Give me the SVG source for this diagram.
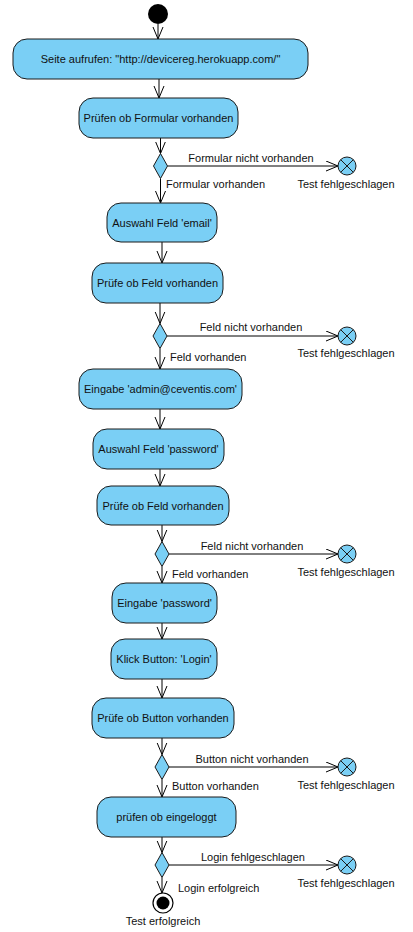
<svg xmlns="http://www.w3.org/2000/svg" width="413" height="932" viewBox="0 0 413 932">
<defs>
<marker id="arr" markerUnits="userSpaceOnUse" markerWidth="14" markerHeight="12" refX="12" refY="5.5" orient="auto" viewBox="0 0 14 12">
<path d="M0,0.5 L12,5.5 L0,10.5" fill="none" stroke="#000" stroke-width="1"/>
</marker>
<style>
.act{fill:#7acff5;stroke:#1a1a1a;stroke-width:1}
.dec{fill:#7acff5;stroke:#1a1a1a;stroke-width:1}
.t{font-family:"Liberation Sans",Arial,sans-serif;font-size:11px;fill:#111}
.c{text-anchor:middle}
.e{fill:none;stroke:#000;stroke-width:1;marker-end:url(#arr)}
.x{fill:#7acff5;stroke:#1a1a1a;stroke-width:1}
.xl{stroke:#1a1a1a;stroke-width:1}
</style>
</defs>
<rect width="413" height="932" fill="#fff"/>
<g id="connectors">
<line class="e" x1="158" y1="24" x2="158" y2="39"/>
<line class="e" x1="159" y1="79" x2="159" y2="98"/>
<line class="e" x1="160.5" y1="138" x2="160.5" y2="153.5"/>
<line class="e" x1="167.5" y1="166" x2="338" y2="166"/>
<line class="e" x1="160.5" y1="178.5" x2="160.5" y2="203"/>
<line class="e" x1="162" y1="242" x2="162" y2="263"/>
<line class="e" x1="160" y1="303" x2="160" y2="323.5"/>
<line class="e" x1="167" y1="336" x2="338" y2="336"/>
<line class="e" x1="160" y1="348.5" x2="160" y2="369"/>
<line class="e" x1="160" y1="409" x2="160" y2="429"/>
<line class="e" x1="160" y1="469" x2="160" y2="486"/>
<line class="e" x1="162" y1="525" x2="162" y2="541.5"/>
<line class="e" x1="169" y1="554" x2="338" y2="554"/>
<line class="e" x1="162" y1="566.5" x2="162" y2="583"/>
<line class="e" x1="162" y1="623" x2="162" y2="639"/>
<line class="e" x1="162" y1="679" x2="162" y2="698"/>
<line class="e" x1="162" y1="738" x2="162" y2="754.5"/>
<line class="e" x1="169" y1="767" x2="338" y2="767"/>
<line class="e" x1="162" y1="779.5" x2="162" y2="797"/>
<line class="e" x1="162" y1="837" x2="162" y2="852.5"/>
<line class="e" x1="169" y1="865" x2="338" y2="865"/>
<line class="e" x1="162" y1="877.5" x2="162" y2="893"/>
<text class="t c" x="251" y="162">Formular nicht vorhanden</text>
<text class="t" x="166" y="188">Formular vorhanden</text>
<text class="t c" x="251" y="331">Feld nicht vorhanden</text>
<text class="t" x="170" y="361">Feld vorhanden</text>
<text class="t c" x="252" y="550">Feld nicht vorhanden</text>
<text class="t" x="172" y="578">Feld vorhanden</text>
<text class="t c" x="252" y="763">Button nicht vorhanden</text>
<text class="t" x="172" y="790">Button vorhanden</text>
<text class="t c" x="253" y="861">Login fehlgeschlagen</text>
<text class="t" x="178" y="892">Login erfolgreich</text>
</g>
<g id="start"><circle cx="158" cy="14" r="10" fill="#000"/></g>
<g id="a1"><rect class="act" x="13" y="39" width="295" height="40" rx="14"/><text class="t c" x="160.5" y="63">Seite aufrufen: "http://devicereg.herokuapp.com/"</text></g>
<g id="a2"><rect class="act" x="79" y="98" width="159" height="40" rx="14"/><text class="t c" x="158.5" y="122">Prüfen ob Formular vorhanden</text></g>
<g id="d1"><polygon class="dec" points="160.5,153.5 167.5,166 160.5,178.5 153.5,166"/></g>
<g id="f1"><circle class="x" cx="347" cy="166" r="9"/><path class="xl" d="M340.6,159.6 L353.4,172.4 M353.4,159.6 L340.6,172.4"/><text class="t c" x="346" y="188">Test fehlgeschlagen</text></g>
<g id="a3"><rect class="act" x="107" y="203" width="110" height="39" rx="14"/><text class="t c" x="162" y="226.5">Auswahl Feld 'email'</text></g>
<g id="a4"><rect class="act" x="92" y="263" width="131" height="40" rx="14"/><text class="t c" x="157.5" y="287">Prüfe ob Feld vorhanden</text></g>
<g id="d2"><polygon class="dec" points="160,323.5 167,336 160,348.5 153,336"/></g>
<g id="f2"><circle class="x" cx="347" cy="336" r="9"/><path class="xl" d="M340.6,329.6 L353.4,342.4 M353.4,329.6 L340.6,342.4"/><text class="t c" x="346" y="357">Test fehlgeschlagen</text></g>
<g id="a5"><rect class="act" x="79" y="369" width="163" height="40" rx="14"/><text class="t c" x="160.5" y="393">Eingabe 'admin@ceventis.com'</text></g>
<g id="a6"><rect class="act" x="93" y="429" width="131" height="40" rx="14"/><text class="t c" x="158.5" y="453">Auswahl Feld 'password'</text></g>
<g id="a7"><rect class="act" x="97" y="486" width="132" height="39" rx="14"/><text class="t c" x="163" y="509.5">Prüfe ob Feld vorhanden</text></g>
<g id="d3"><polygon class="dec" points="162,541.5 169,554 162,566.5 155,554"/></g>
<g id="f3"><circle class="x" cx="347" cy="554" r="9"/><path class="xl" d="M340.6,547.6 L353.4,560.4 M353.4,547.6 L340.6,560.4"/><text class="t c" x="346" y="576">Test fehlgeschlagen</text></g>
<g id="a8"><rect class="act" x="112" y="583" width="105" height="40" rx="14"/><text class="t c" x="164.5" y="607">Eingabe 'password'</text></g>
<g id="a9"><rect class="act" x="111" y="639" width="106" height="40" rx="14"/><text class="t c" x="164" y="663">Klick Button: 'Login'</text></g>
<g id="a10"><rect class="act" x="92" y="698" width="142" height="40" rx="14"/><text class="t c" x="163" y="722">Prüfe ob Button vorhanden</text></g>
<g id="d4"><polygon class="dec" points="162,754.5 169,767 162,779.5 155,767"/></g>
<g id="f4"><circle class="x" cx="347" cy="767" r="9"/><path class="xl" d="M340.6,760.6 L353.4,773.4 M353.4,760.6 L340.6,773.4"/><text class="t c" x="346" y="789">Test fehlgeschlagen</text></g>
<g id="a11"><rect class="act" x="97" y="797" width="139" height="40" rx="14"/><text class="t c" x="166.5" y="821">prüfen ob eingeloggt</text></g>
<g id="d5"><polygon class="dec" points="162,852.5 169,865 162,877.5 155,865"/></g>
<g id="f5"><circle class="x" cx="347" cy="865" r="9"/><path class="xl" d="M340.6,858.6 L353.4,871.4 M353.4,858.6 L340.6,871.4"/><text class="t c" x="346" y="887">Test fehlgeschlagen</text></g>
<g id="end"><circle cx="163" cy="903" r="10" fill="#fff" stroke="#000" stroke-width="1.2"/><circle cx="163" cy="903" r="6.5" fill="#000"/><text class="t c" x="163" y="925">Test erfolgreich</text></g>
</svg>
